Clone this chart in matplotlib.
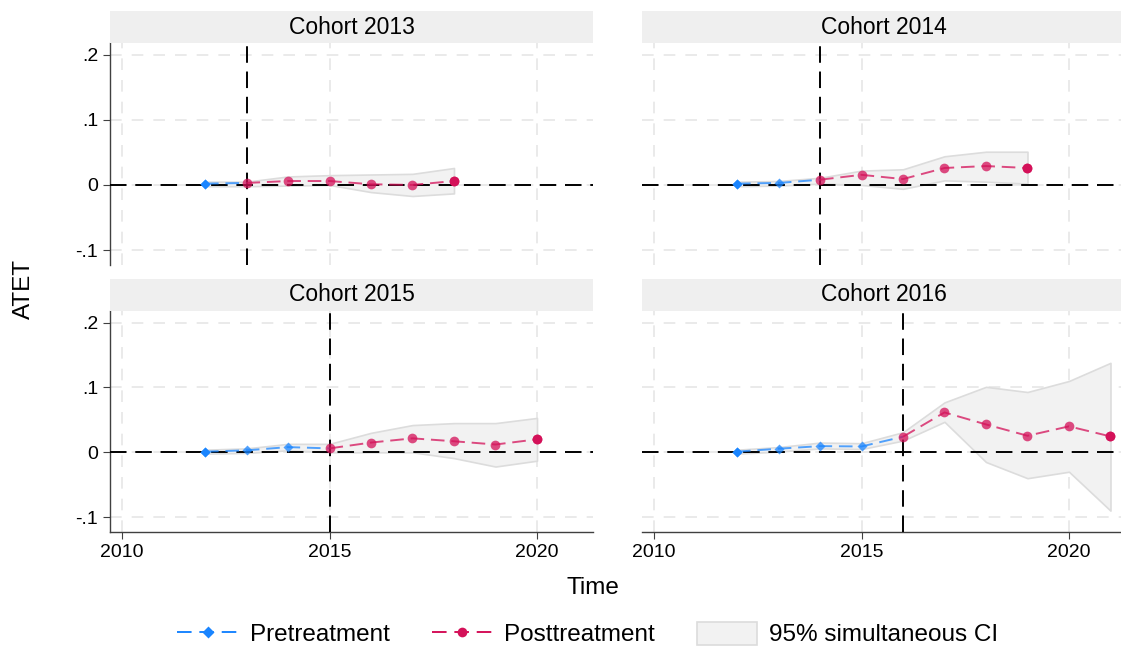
import matplotlib
matplotlib.use("Agg")
import matplotlib.pyplot as plt
from matplotlib.lines import Line2D
from matplotlib.patches import Patch

plt.rcParams['font.family'] = ['Liberation Sans', 'DejaVu Sans']

# ATET estimates by cohort, 2012 onwards
cohorts = [2013, 2014, 2015, 2016]
years = {
    2013: list(range(2012, 2019)),
    2014: list(range(2012, 2020)),
    2015: list(range(2012, 2021)),
    2016: list(range(2012, 2022)),
}
est = {
    2013: [0.002, 0.003, 0.006, 0.006, 0.001, 0.000, 0.006],
    2014: [0.002, 0.003, 0.008, 0.0155, 0.009, 0.026, 0.029, 0.026],
    2015: [0.001, 0.003, 0.008, 0.006, 0.015, 0.0215, 0.017, 0.012, 0.020],
    2016: [0.001, 0.0055, 0.0095, 0.009, 0.024, 0.0615, 0.043, 0.0255, 0.040, 0.0245],
}
ci_low = {
    2013: [-0.002, -0.002, -0.001, 0.000, -0.011, -0.017, -0.013],
    2014: [-0.002, -0.001, 0.002, 0.000, -0.006, 0.007, 0.005, 0.002],
    2015: [-0.002, -0.001, 0.003, 0.000, 0.000, 0.000, -0.009, -0.022, -0.013],
    2016: [-0.002, 0.001, 0.006, 0.005, 0.018, 0.047, -0.015, -0.040, -0.030, -0.090],
}
ci_high = {
    2013: [0.005, 0.005, 0.013, 0.015, 0.016, 0.017, 0.026],
    2014: [0.005, 0.006, 0.011, 0.022, 0.024, 0.044, 0.051, 0.051],
    2015: [0.004, 0.006, 0.013, 0.013, 0.030, 0.042, 0.045, 0.045, 0.053],
    2016: [0.004, 0.008, 0.015, 0.014, 0.031, 0.077, 0.101, 0.093, 0.110, 0.138],
}
xticks = [2010, 2015, 2020]
yticks = [-0.1, 0, 0.1, 0.2]
ytick_labels = ['-.1', '0', '.1', '.2']

BLUE = '#1a85ff'
PINK = '#d41159'
BAND = '#f2f2f2'
BAND_EDGE = '#dcdcdc'
GRID = '#e6e6e6'

W, H = 1121, 649
fig = plt.figure(figsize=(W / 100, H / 100), dpi=100)

# panel boxes in pixels: left, top, width, height
boxes = {
    2013: (110, 43, 483, 222),
    2014: (642, 43, 483, 222),
    2015: (110, 311, 483, 221),
    2016: (642, 311, 483, 221),
}
strip_h = 32

for c in cohorts:
    l, t, w, h = boxes[c]
    ax = fig.add_axes([l / W, 1 - (t + h) / H, w / W, h / H])
    is_left = l < 300
    is_bottom = t > 300

    x = years[c]
    y = est[c]
    k = x.index(c)

    ax.fill_between(x, ci_low[c], ci_high[c], facecolor=BAND,
                    edgecolor=BAND_EDGE, linewidth=1.2, zorder=2)

    # reference lines
    ax.axhline(0, color='black', lw=1.4, dashes=(8.5, 4.5), zorder=3)
    ax.axvline(c, color='black', lw=1.4, dashes=(8.5, 4.5), zorder=3)

    # pretreatment runs up to the first post point
    ax.plot(x[:k + 1], y[:k + 1], color=BLUE, alpha=0.75, lw=1.4,
            dashes=(7, 3.5), zorder=4)
    ax.plot(x[:k], y[:k], ls='none', marker='D', ms=5, color=BLUE,
            alpha=0.75, mec='none', zorder=5)
    ax.plot(x[0], y[0], ls='none', marker='D', ms=5, color=BLUE,
            mec='none', zorder=5)

    ax.plot(x[k:], y[k:], color=PINK, alpha=0.75, lw=1.4,
            dashes=(7, 3.5), marker='o', ms=7, mec='none', zorder=6)
    ax.plot(x[-1], y[-1], ls='none', marker='o', ms=7, color=PINK,
            mec='none', zorder=6)

    ax.set_xlim(2009.71, 2021.35)
    ax.set_ylim(-0.123, 0.218)
    ax.set_xticks(xticks)
    ax.set_yticks(yticks)
    ax.grid(True, color=GRID, lw=1.2, dashes=(7, 6), zorder=0)
    ax.set_axisbelow(True)

    for side in ['top', 'right']:
        ax.spines[side].set_visible(False)
    ax.spines['left'].set_visible(is_left)
    ax.spines['bottom'].set_visible(is_bottom)
    for side in ['left', 'bottom']:
        ax.spines[side].set_color('#404040')
        ax.spines[side].set_linewidth(1.0)

    ax.tick_params(axis='y', left=is_left, labelleft=is_left, length=5,
                   color='#404040', labelsize=14)
    ax.tick_params(axis='x', bottom=is_bottom, labelbottom=is_bottom,
                   length=5, color='#404040', labelsize=14)
    if is_left:
        ax.set_yticklabels(ytick_labels)

    # facet strip
    sax = fig.add_axes([l / W, 1 - t / H, (593 - 110) / W, strip_h / H])
    sax.set_facecolor('#efefef')
    sax.set_xticks([])
    sax.set_yticks([])
    for s in sax.spines.values():
        s.set_visible(False)
    sax.text(0.5, 0.5, f'Cohort {c}', ha='center', va='center',
             fontsize=16.5, transform=sax.transAxes)

fig.text(24 / W, 1 - 289 / H, 'ATET', rotation=90, ha='center',
         va='center', fontsize=17.5)
fig.text(593 / W, 1 - 588 / H, 'Time', ha='center', va='center',
         fontsize=17.5)

handles = [
    Line2D([], [], color=BLUE, lw=1.4, dashes=(7.5, 4), marker='D', ms=6,
           mec='none'),
    Line2D([], [], color=PINK, lw=1.4, dashes=(7.5, 4), marker='o', ms=7,
           mec='none'),
    Patch(facecolor=BAND, edgecolor=BAND_EDGE, lw=1.2),
]
fig.legend(handles, ['Pretreatment', 'Posttreatment', '95% simultaneous CI'],
           loc='center', bbox_to_anchor=(588 / W, 1 - 634 / H), ncol=3,
           frameon=False, fontsize=17.5, handlelength=2.5, handleheight=1.1,
           columnspacing=1.7, handletextpad=0.5)

fig.savefig('out.png', dpi=100)
